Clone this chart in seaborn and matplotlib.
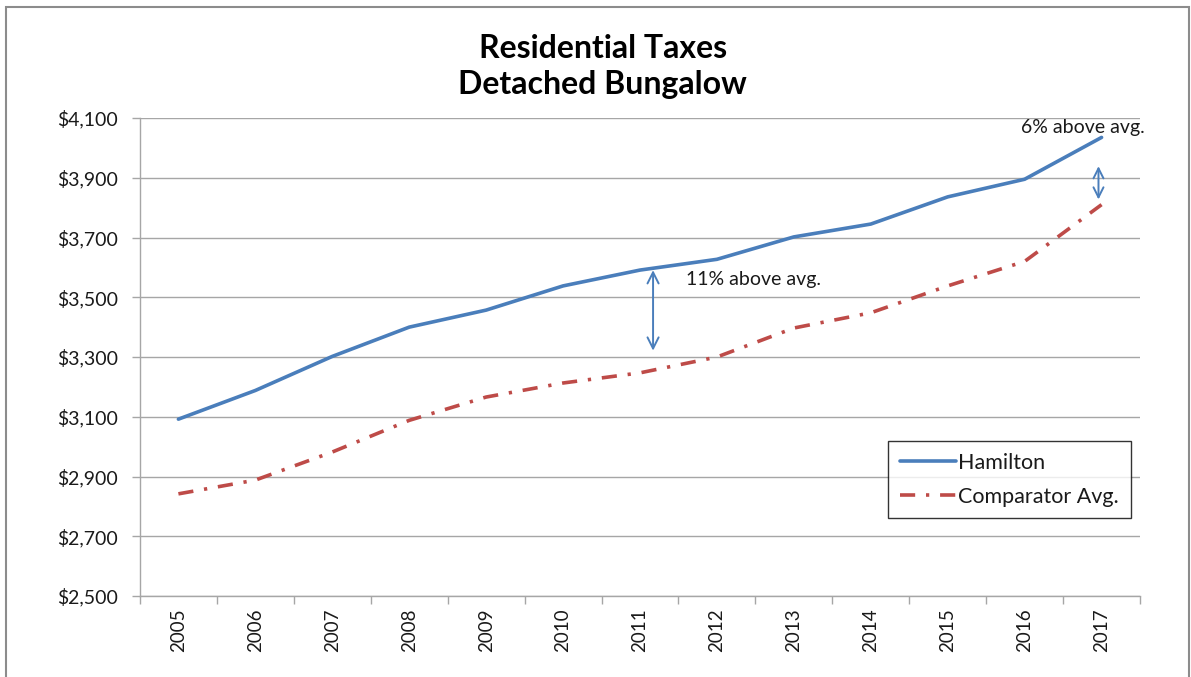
import matplotlib
matplotlib.use("Agg")
import matplotlib.pyplot as plt
from matplotlib.patches import Rectangle
from matplotlib.ticker import FuncFormatter, FixedLocator
import seaborn as sns
import pandas as pd

# Data
years = ["2005", "2006", "2007", "2008", "2009", "2010", "2011",
         "2012", "2013", "2014", "2015", "2016", "2017"]
hamilton = [3092, 3188, 3302, 3400, 3457, 3538, 3591,
            3627, 3702, 3745, 3836, 3895, 4035]
comparator = [2842, 2888, 2982, 3088, 3166, 3213, 3247,
              3300, 3397, 3448, 3538, 3620, 3810]
y_ticks = [2500, 2700, 2900, 3100, 3300, 3500, 3700, 3900, 4100]

blue = "#4a7ebb"
red = "#be4b48"

sns.set_style("white")
plt.rcParams["font.family"] = ["Lato", "DejaVu Sans"]

fig = plt.figure(figsize=(11.91, 6.77), dpi=100)
ax = fig.add_axes([0.1175, 0.1196, 0.8397, 0.7061])

df = pd.DataFrame({"year": years, "Hamilton": hamilton, "Comparator Avg.": comparator})
sns.lineplot(data=df, x="year", y="Hamilton", ax=ax, color=blue, lw=2.6,
             label="Hamilton", sort=False)
sns.lineplot(data=df, x="year", y="Comparator Avg.", ax=ax, color=red, lw=2.6,
             label="Comparator Avg.", sort=False)
ax.lines[1].set_linestyle((0, (4.2, 3.0, 0.9, 3.0)))
ax.lines[1].set_dash_capstyle("butt")

ax.set_xlim(-0.5, len(years) - 0.5)
ax.set_ylim(y_ticks[0], y_ticks[-1])
ax.set_yticks(y_ticks)
ax.yaxis.set_major_formatter(FuncFormatter(lambda v, p: f"${v:,.0f}"))
ax.grid(axis="y", color="#a6a6a6", lw=1)
ax.set_axisbelow(True)

# category boundaries as ticks, labels centred between them
ax.xaxis.set_major_locator(FixedLocator([i - 0.5 for i in range(len(years) + 1)]))
ax.xaxis.set_minor_locator(FixedLocator(range(len(years))))
ax.set_xticklabels([], minor=False)
ax.set_xticklabels(years, minor=True, rotation=90, fontsize=13.5, color="#1a1a1a")
ax.tick_params(axis="x", which="major", length=6, color="#a6a6a6", width=1, direction="out")
ax.tick_params(axis="x", which="minor", length=0, pad=9)
ax.tick_params(axis="y", length=6, color="#a6a6a6", width=1, labelsize=14,
               labelcolor="#1a1a1a", pad=10, direction="out")
ax.tick_params(axis="both", bottom=True, left=True)
ax.set_xlabel("")
ax.set_ylabel("")

for s in ["top", "right"]:
    ax.spines[s].set_visible(False)
for s in ["left", "bottom"]:
    ax.spines[s].set_color("#a6a6a6")
    ax.spines[s].set_linewidth(1)

# annotations
ax.annotate("", xy=(6.17, 3600), xytext=(6.17, 3312),
            arrowprops=dict(arrowstyle="<->", color=blue, lw=1.4, mutation_scale=20))
ax.text(6.6, 3560, "11% above avg.", fontsize=14, ha="left", va="center", color="#1a1a1a")
ax.annotate("", xy=(11.96, 3948), xytext=(11.96, 3818),
            arrowprops=dict(arrowstyle="<->", color=blue, lw=1.4, mutation_scale=18))
ax.text(11.76, 4067, "6% above avg.", fontsize=14, ha="center", va="center", color="#1a1a1a")

leg = ax.legend(loc="upper left", bbox_to_anchor=(0.748, 0.325), frameon=True,
                fancybox=False, edgecolor="black", fontsize=15.5, handlelength=2.6,
                handletextpad=0.1, borderpad=0.55, labelspacing=0.65, borderaxespad=0)
leg.get_frame().set_linewidth(1)
for t in leg.get_texts():
    t.set_color("#1a1a1a")

fig.text(0.506, 0.902, "Residential Taxes\nDetached Bungalow", ha="center", va="center",
         fontsize=23, fontweight="bold", linespacing=1.3, color="black")

fig.patches.append(Rectangle((0.005, -0.01), 0.993, 0.9995, transform=fig.transFigure,
                             fill=False, edgecolor="#8c8c8c", lw=1.5))

fig.savefig("out.png", dpi=100)
